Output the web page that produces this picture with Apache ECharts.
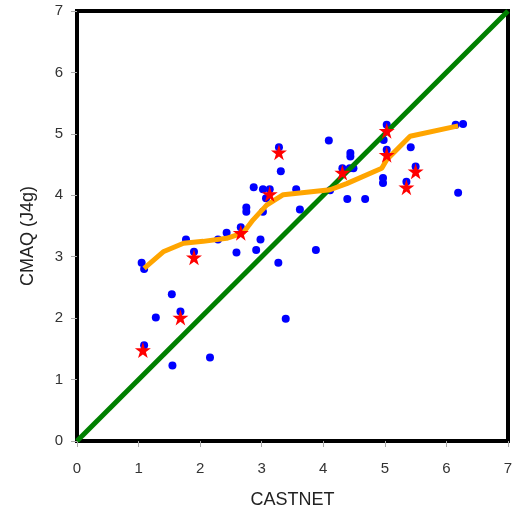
<!DOCTYPE html>
<html>
<head>
<meta charset="utf-8">
<script src="https://cdn.jsdelivr.net/npm/echarts@6/dist/echarts.min.js"></script>
<style>
  html, body { margin: 0; padding: 0; background: #fff; }
  #main { width: 512px; height: 510px; }
</style>
</head>
<body>
<div id="main"></div>
<script>
// blue dots: all sites
var dotX = [1.05, 1.09, 1.09, 1.28, 1.54, 1.55, 1.68, 1.77, 1.90, 2.16, 2.29, 2.43, 2.59, 2.66, 2.75, 2.75,
            2.87, 2.91, 2.98, 3.02, 3.02, 3.07, 3.13, 3.27, 3.28, 3.31, 3.39, 3.56, 3.62, 3.88, 4.09, 4.11,
            4.31, 4.43, 4.49, 4.44, 4.44, 4.39, 4.68, 4.97, 4.97, 5.03, 4.98, 5.03, 5.42, 5.50, 5.35, 6.19,
            6.27, 6.15];
var dotY = [2.90, 2.80, 1.56, 2.01, 2.39, 1.23, 2.11, 3.28, 3.08, 1.36, 3.28, 3.39, 3.07, 3.48, 3.80, 3.73,
            4.13, 3.11, 3.28, 4.10, 3.73, 3.95, 4.10, 2.90, 4.78, 4.39, 1.99, 4.10, 3.77, 3.11, 4.89, 4.08,
            4.44, 4.44, 4.44, 4.69, 4.63, 3.94, 3.94, 4.28, 4.20, 5.15, 4.90, 4.74, 4.78, 4.47, 4.22, 4.04,
            5.16, 5.15];
// red stars
var starX = [1.07, 1.68, 1.90, 2.66, 3.13, 3.28, 4.31, 5.03, 5.03, 5.35, 5.50];
var starY = [1.48, 2.01, 2.99, 3.39, 4.02, 4.70, 4.37, 5.05, 4.66, 4.13, 4.39];
// orange smoothed curve
var fitX = [1.09, 1.40, 1.73, 2.05, 2.43, 2.70, 2.86, 3.08, 3.35, 4.11, 4.38, 4.95, 5.03, 5.41, 6.19];
var fitY = [2.81, 3.08, 3.22, 3.25, 3.30, 3.39, 3.60, 3.84, 4.01, 4.09, 4.19, 4.44, 4.58, 4.96, 5.13];
// 1:1 line
var oneX = [0, 7];
var oneY = [0, 7];

function pairs(xs, ys) {
  return xs.map(function (x, i) { return [x, ys[i]]; });
}

var star = 'path://M50,0 L61,35 L98,35 L68,57 L79,91 L50,70 L21,91 L32,57 L2,35 L39,35 Z';

var myChart = echarts.init(document.getElementById('main'), null, {renderer: 'canvas'});

var axisCommon = {
  type: 'value',
  min: 0,
  max: 7,
  interval: 1,
  axisLine: {show: false},
  axisTick: {show: true, inside: false, length: 6, lineStyle: {color: '#aaa', width: 1}},
  splitLine: {show: false},
  axisLabel: {color: '#333', fontSize: 15, fontFamily: 'Liberation Sans'},
  nameLocation: 'middle',
  nameTextStyle: {color: '#222', fontSize: 18, fontFamily: 'Liberation Sans'}
};

myChart.setOption({
  animation: false,
  backgroundColor: '#fff',
  grid: {
    left: 77, right: 4, top: 11, bottom: 69,
    containLabel: false,
    outerBoundsMode: 'none',
    show: true, borderColor: '#000', borderWidth: 4
  },
  xAxis: Object.assign({}, axisCommon, {
    name: 'CASTNET',
    nameGap: 50,
    axisLabel: Object.assign({}, axisCommon.axisLabel, {margin: 20})
  }),
  yAxis: Object.assign({}, axisCommon, {
    name: 'CMAQ (J4g)',
    nameGap: 40,
    nameTextStyle: Object.assign({}, axisCommon.nameTextStyle, {padding: [0, 20, 0, 0]}),
    axisLabel: Object.assign({}, axisCommon.axisLabel, {margin: 14})
  }),
  series: [
    {
      type: 'scatter',
      data: pairs(dotX, dotY),
      symbol: 'circle',
      symbolSize: 8,
      itemStyle: {color: '#0000ff', opacity: 1},
      z: 2
    },
    {
      type: 'line',
      data: pairs(oneX, oneY),
      symbol: 'none',
      lineStyle: {color: '#008000', width: 5},
      z: 3
    },
    {
      type: 'line',
      data: pairs(fitX, fitY),
      symbol: 'none',
      lineStyle: {color: '#ffa500', width: 5},
      z: 4
    },
    {
      type: 'scatter',
      data: pairs(starX, starY),
      symbol: star,
      symbolSize: 16,
      itemStyle: {color: '#ff0000', opacity: 1},
      z: 5
    }
  ]
});
</script>
</body>
</html>
